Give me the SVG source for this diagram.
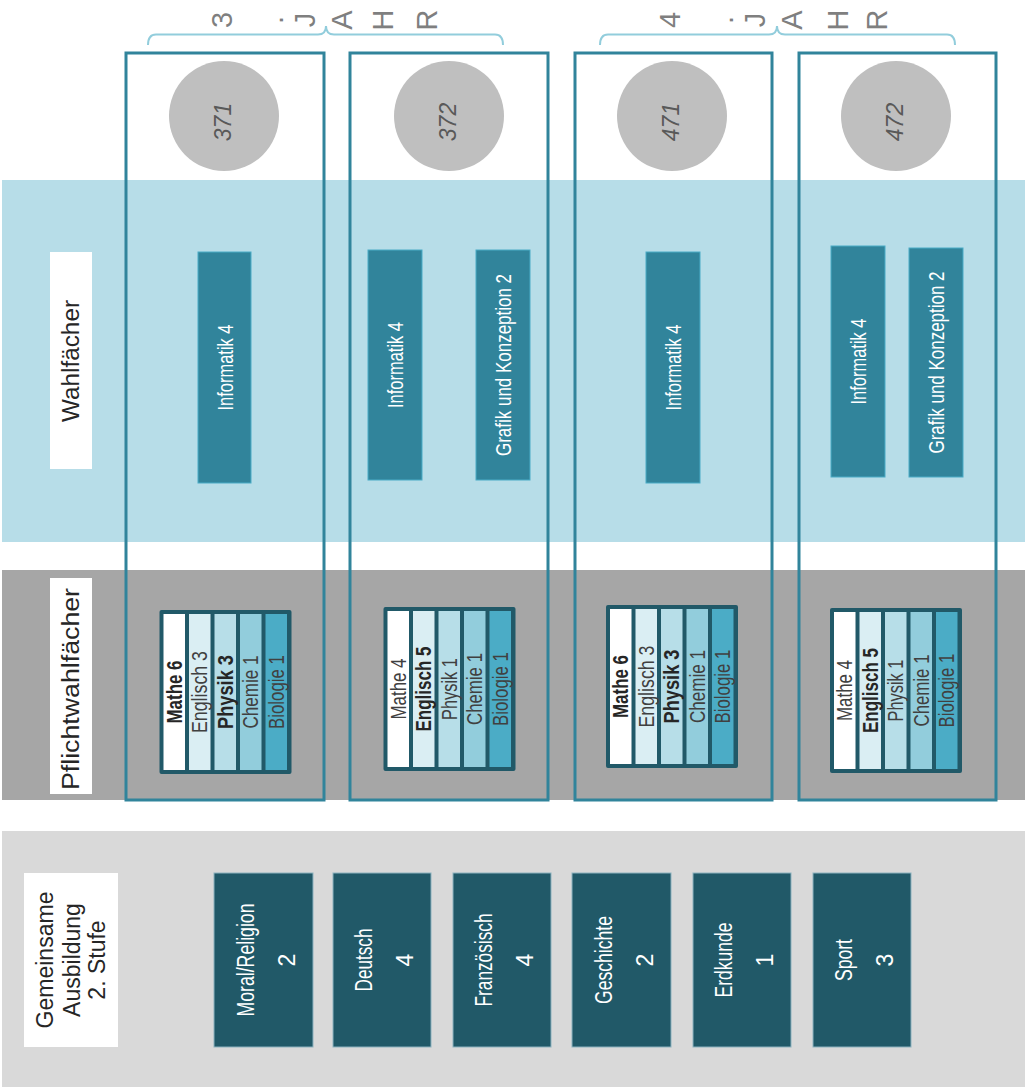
<svg xmlns="http://www.w3.org/2000/svg" width="1030" height="1088" viewBox="0 0 1030 1088">
<style>
.band-w{fill:#b7dde8}
.band-p{fill:#a6a6a6}
.band-g{fill:#d9d9d9}
.lbl{fill:#fff}
.lbltxt{font-family:"Liberation Sans",Arial,sans-serif;font-size:23px;fill:#262626}
.frame{fill:none;stroke:#31849b;stroke-width:3}
.circ{fill:#bfbfbf}
.ctxt{font-family:"Liberation Sans",Arial,sans-serif;font-size:23px;font-style:italic;fill:#595959}
.brace{fill:none;stroke:#92cddc;stroke-width:2}
.hdr{font-family:"Liberation Sans",Arial,sans-serif;font-size:29px;fill:#7f7f7f}
.wbox{fill:#31849b;stroke:#4bacc6;stroke-width:1}
.wtxt{font-family:"Liberation Sans",Arial,sans-serif;font-size:22px;fill:#fff}
.pout{fill:#215968}
.s1{fill:#fff}.s2{fill:#daeef3}.s3{fill:#b7dee8}.s4{fill:#92cddc}.s5{fill:#4bacc6}
.ptxt{font-family:"Liberation Sans",Arial,sans-serif;font-size:21.5px;fill:#404040}
.pb{font-weight:bold;fill:#262626}
.gbox{fill:#215968;stroke:#8db3c0;stroke-width:1}
.gtxt{font-family:"Liberation Sans",Arial,sans-serif;font-size:23px;fill:#fff}
</style>
<rect width="1030" height="1088" fill="#fff"/>
<g id="bands">
<rect class="band-w" x="2" y="180" width="1023" height="362"/>
<rect class="band-p" x="2" y="570" width="1023" height="230"/>
<rect class="band-g" x="2" y="831" width="1023" height="256"/>
</g>
<g id="row-labels">
<g id="label-wahl"><rect class="lbl" x="50" y="252" width="42" height="217"/>
<text class="lbltxt" transform="translate(71,361) rotate(-90)" y="8" text-anchor="middle" textLength="122" lengthAdjust="spacingAndGlyphs">Wahlfächer</text></g>
<g id="label-pflicht"><rect class="lbl" x="50" y="578" width="42" height="216"/>
<text class="lbltxt" transform="translate(71,689) rotate(-90)" y="8" text-anchor="middle" textLength="202" lengthAdjust="spacingAndGlyphs">Pflichtwahlfächer</text></g>
<g id="label-gemeinsam"><rect class="lbl" x="24" y="873" width="94" height="174"/>
<g transform="translate(71,960) rotate(-90)">
<text class="lbltxt" y="-18" text-anchor="middle" textLength="137" lengthAdjust="spacingAndGlyphs">Gemeinsame</text>
<text class="lbltxt" y="9" text-anchor="middle">Ausbildung</text>
<text class="lbltxt" y="34" text-anchor="middle">2. Stufe</text>
</g></g>
</g>
<g id="headers">
<path class="brace" d="M148,45 Q148,34.5 156,34.5 L318,34.5 Q326,34.5 326,26 Q326,34.5 334,34.5 L495,34.5 Q503,34.5 503,45"/>
<path class="brace" d="M600,45 Q600,34.5 608,34.5 L769,34.5 Q777,34.5 777,26 Q777,34.5 785,34.5 L947,34.5 Q955,34.5 955,45"/>
<g class="hdr" text-anchor="middle">
<text transform="translate(222,20) rotate(-90)" y="10">3</text>
<text transform="translate(273,20) rotate(-90)" y="10">.</text>
<text transform="translate(305,20) rotate(-90)" y="10">J</text>
<text transform="translate(342,20) rotate(-90)" y="10">A</text>
<text transform="translate(383,20) rotate(-90)" y="10">H</text>
<text transform="translate(427,20) rotate(-90)" y="10">R</text>
<text transform="translate(670,20) rotate(-90)" y="10">4</text>
<text transform="translate(723,20) rotate(-90)" y="10">.</text>
<text transform="translate(755,20) rotate(-90)" y="10">J</text>
<text transform="translate(792,20) rotate(-90)" y="10">A</text>
<text transform="translate(838,20) rotate(-90)" y="10">H</text>
<text transform="translate(877,20) rotate(-90)" y="10">R</text>
</g>
</g>
<g id="class-frames">
<rect class="frame" x="126" y="53" width="198" height="747"/>
<rect class="frame" x="350" y="53" width="198" height="747"/>
<rect class="frame" x="575" y="53" width="197" height="747"/>
<rect class="frame" x="799" y="53" width="197" height="747"/>
</g>
<g id="class-371">
<circle class="circ" cx="224" cy="116" r="55"/>
<text class="ctxt" transform="translate(223,122) rotate(-90)" y="8" text-anchor="middle">371</text>
</g>
<g id="class-372">
<circle class="circ" cx="449" cy="116" r="55"/>
<text class="ctxt" transform="translate(448,122) rotate(-90)" y="8" text-anchor="middle">372</text>
</g>
<g id="class-471">
<circle class="circ" cx="672" cy="116" r="55"/>
<text class="ctxt" transform="translate(671,122) rotate(-90)" y="8" text-anchor="middle">471</text>
</g>
<g id="class-472">
<circle class="circ" cx="896" cy="116" r="55"/>
<text class="ctxt" transform="translate(895,122) rotate(-90)" y="8" text-anchor="middle">472</text>
</g>
<g id="wahl-371-info"><rect class="wbox" x="198" y="252" width="53" height="231"/>
<text class="wtxt" transform="translate(224.5,367.5) rotate(-90)" y="8" text-anchor="middle" textLength="86" lengthAdjust="spacingAndGlyphs">Informatik 4</text></g>
<g id="wahl-372-info"><rect class="wbox" x="368" y="250" width="54" height="230"/>
<text class="wtxt" transform="translate(395,365) rotate(-90)" y="8" text-anchor="middle" textLength="86" lengthAdjust="spacingAndGlyphs">Informatik 4</text></g>
<g id="wahl-372-grafik"><rect class="wbox" x="476" y="250" width="54" height="230"/>
<text class="wtxt" transform="translate(503,365) rotate(-90)" y="8" text-anchor="middle" textLength="182" lengthAdjust="spacingAndGlyphs">Grafik und Konzeption 2</text></g>
<g id="wahl-471-info"><rect class="wbox" x="646" y="252" width="54" height="231"/>
<text class="wtxt" transform="translate(673,367.5) rotate(-90)" y="8" text-anchor="middle" textLength="86" lengthAdjust="spacingAndGlyphs">Informatik 4</text></g>
<g id="wahl-472-info"><rect class="wbox" x="831" y="246" width="54" height="231"/>
<text class="wtxt" transform="translate(858,361.5) rotate(-90)" y="8" text-anchor="middle" textLength="86" lengthAdjust="spacingAndGlyphs">Informatik 4</text></g>
<g id="wahl-472-grafik"><rect class="wbox" x="909" y="248" width="54" height="229"/>
<text class="wtxt" transform="translate(936,362.5) rotate(-90)" y="8" text-anchor="middle" textLength="182" lengthAdjust="spacingAndGlyphs">Grafik und Konzeption 2</text></g>
<g id="pflicht-371">
<rect class="pout" x="159.5" y="610" width="132" height="164" rx="2"/>
<rect class="s1" x="163.5" y="614" width="21.5" height="156"/>
<rect class="s2" x="189" y="614" width="21.5" height="156"/>
<rect class="s3" x="214.5" y="614" width="21.5" height="156"/>
<rect class="s4" x="240" y="614" width="21.5" height="156"/>
<rect class="s5" x="265.5" y="614" width="21.5" height="156"/>
<g transform="translate(0,692)">
<text class="ptxt pb" transform="translate(174.25,0) rotate(-90)" y="7.5" text-anchor="middle" textLength="63" lengthAdjust="spacingAndGlyphs">Mathe 6</text>
<text class="ptxt" transform="translate(199.75,0) rotate(-90)" y="7.5" text-anchor="middle" textLength="82" lengthAdjust="spacingAndGlyphs">Englisch 3</text>
<text class="ptxt pb" transform="translate(225.25,0) rotate(-90)" y="7.5" text-anchor="middle" textLength="74" lengthAdjust="spacingAndGlyphs">Physik 3</text>
<text class="ptxt" transform="translate(250.75,0) rotate(-90)" y="7.5" text-anchor="middle" textLength="73" lengthAdjust="spacingAndGlyphs">Chemie 1</text>
<text class="ptxt" transform="translate(276.25,0) rotate(-90)" y="7.5" text-anchor="middle" textLength="74" lengthAdjust="spacingAndGlyphs">Biologie 1</text>
</g>
</g>
<g id="pflicht-372">
<rect class="pout" x="383.5" y="607" width="132" height="164" rx="2"/>
<rect class="s1" x="387.5" y="611" width="21.5" height="156"/>
<rect class="s2" x="413" y="611" width="21.5" height="156"/>
<rect class="s3" x="438.5" y="611" width="21.5" height="156"/>
<rect class="s4" x="464" y="611" width="21.5" height="156"/>
<rect class="s5" x="489.5" y="611" width="21.5" height="156"/>
<g transform="translate(0,689)">
<text class="ptxt" transform="translate(398.25,0) rotate(-90)" y="7.5" text-anchor="middle" textLength="61" lengthAdjust="spacingAndGlyphs">Mathe 4</text>
<text class="ptxt pb" transform="translate(423.75,0) rotate(-90)" y="7.5" text-anchor="middle" textLength="85" lengthAdjust="spacingAndGlyphs">Englisch 5</text>
<text class="ptxt" transform="translate(449.25,0) rotate(-90)" y="7.5" text-anchor="middle" textLength="62" lengthAdjust="spacingAndGlyphs">Physik 1</text>
<text class="ptxt" transform="translate(474.75,0) rotate(-90)" y="7.5" text-anchor="middle" textLength="72" lengthAdjust="spacingAndGlyphs">Chemie 1</text>
<text class="ptxt" transform="translate(500.25,0) rotate(-90)" y="7.5" text-anchor="middle" textLength="74" lengthAdjust="spacingAndGlyphs">Biologie 1</text>
</g>
</g>
<g id="pflicht-471">
<rect class="pout" x="606" y="605" width="132" height="163" rx="2"/>
<rect class="s1" x="610" y="609" width="21.5" height="155"/>
<rect class="s2" x="635.5" y="609" width="21.5" height="155"/>
<rect class="s3" x="661" y="609" width="21.5" height="155"/>
<rect class="s4" x="686.5" y="609" width="21.5" height="155"/>
<rect class="s5" x="712" y="609" width="21.5" height="155"/>
<g transform="translate(0,686.5)">
<text class="ptxt pb" transform="translate(620.75,0) rotate(-90)" y="7.5" text-anchor="middle" textLength="63" lengthAdjust="spacingAndGlyphs">Mathe 6</text>
<text class="ptxt" transform="translate(646.25,0) rotate(-90)" y="7.5" text-anchor="middle" textLength="82" lengthAdjust="spacingAndGlyphs">Englisch 3</text>
<text class="ptxt pb" transform="translate(671.75,0) rotate(-90)" y="7.5" text-anchor="middle" textLength="74" lengthAdjust="spacingAndGlyphs">Physik 3</text>
<text class="ptxt" transform="translate(697.25,0) rotate(-90)" y="7.5" text-anchor="middle" textLength="73" lengthAdjust="spacingAndGlyphs">Chemie 1</text>
<text class="ptxt" transform="translate(722.75,0) rotate(-90)" y="7.5" text-anchor="middle" textLength="74" lengthAdjust="spacingAndGlyphs">Biologie 1</text>
</g>
</g>
<g id="pflicht-472">
<rect class="pout" x="830" y="608" width="132" height="165" rx="2"/>
<rect class="s1" x="834" y="612" width="21.5" height="157"/>
<rect class="s2" x="859.5" y="612" width="21.5" height="157"/>
<rect class="s3" x="885" y="612" width="21.5" height="157"/>
<rect class="s4" x="910.5" y="612" width="21.5" height="157"/>
<rect class="s5" x="936" y="612" width="21.5" height="157"/>
<g transform="translate(0,690.5)">
<text class="ptxt" transform="translate(844.75,0) rotate(-90)" y="7.5" text-anchor="middle" textLength="61" lengthAdjust="spacingAndGlyphs">Mathe 4</text>
<text class="ptxt pb" transform="translate(870.25,0) rotate(-90)" y="7.5" text-anchor="middle" textLength="85" lengthAdjust="spacingAndGlyphs">Englisch 5</text>
<text class="ptxt" transform="translate(895.75,0) rotate(-90)" y="7.5" text-anchor="middle" textLength="62" lengthAdjust="spacingAndGlyphs">Physik 1</text>
<text class="ptxt" transform="translate(921.25,0) rotate(-90)" y="7.5" text-anchor="middle" textLength="72" lengthAdjust="spacingAndGlyphs">Chemie 1</text>
<text class="ptxt" transform="translate(946.75,0) rotate(-90)" y="7.5" text-anchor="middle" textLength="74" lengthAdjust="spacingAndGlyphs">Biologie 1</text>
</g>
</g>
<g id="gem-moral"><rect class="gbox" x="214" y="873" width="99" height="174"/>
<g transform="translate(263.5,960) rotate(-90)"><text class="gtxt" y="-10" text-anchor="middle" textLength="113" lengthAdjust="spacingAndGlyphs">Moral/Religion</text><text class="gtxt" y="31" text-anchor="middle">2</text></g></g>
<g id="gem-deutsch"><rect class="gbox" x="333" y="873" width="98" height="174"/>
<g transform="translate(382,960) rotate(-90)"><text class="gtxt" y="-10" text-anchor="middle" textLength="63" lengthAdjust="spacingAndGlyphs">Deutsch</text><text class="gtxt" y="31" text-anchor="middle">4</text></g></g>
<g id="gem-franz"><rect class="gbox" x="453" y="873" width="98" height="174"/>
<g transform="translate(502,960) rotate(-90)"><text class="gtxt" y="-10" text-anchor="middle" textLength="93" lengthAdjust="spacingAndGlyphs">Französisch</text><text class="gtxt" y="31" text-anchor="middle">4</text></g></g>
<g id="gem-geschichte"><rect class="gbox" x="572" y="873" width="99" height="174"/>
<g transform="translate(621.5,960) rotate(-90)"><text class="gtxt" y="-10" text-anchor="middle" textLength="88" lengthAdjust="spacingAndGlyphs">Geschichte</text><text class="gtxt" y="31" text-anchor="middle">2</text></g></g>
<g id="gem-erdkunde"><rect class="gbox" x="693" y="873" width="98" height="174"/>
<g transform="translate(742,960) rotate(-90)"><text class="gtxt" y="-10" text-anchor="middle" textLength="75" lengthAdjust="spacingAndGlyphs">Erdkunde</text><text class="gtxt" y="31" text-anchor="middle">1</text></g></g>
<g id="gem-sport"><rect class="gbox" x="813" y="873" width="98" height="174"/>
<g transform="translate(862,960) rotate(-90)"><text class="gtxt" y="-10" text-anchor="middle" textLength="42" lengthAdjust="spacingAndGlyphs">Sport</text><text class="gtxt" y="31" text-anchor="middle">3</text></g></g>
<g id="connectors"></g>
</svg>
